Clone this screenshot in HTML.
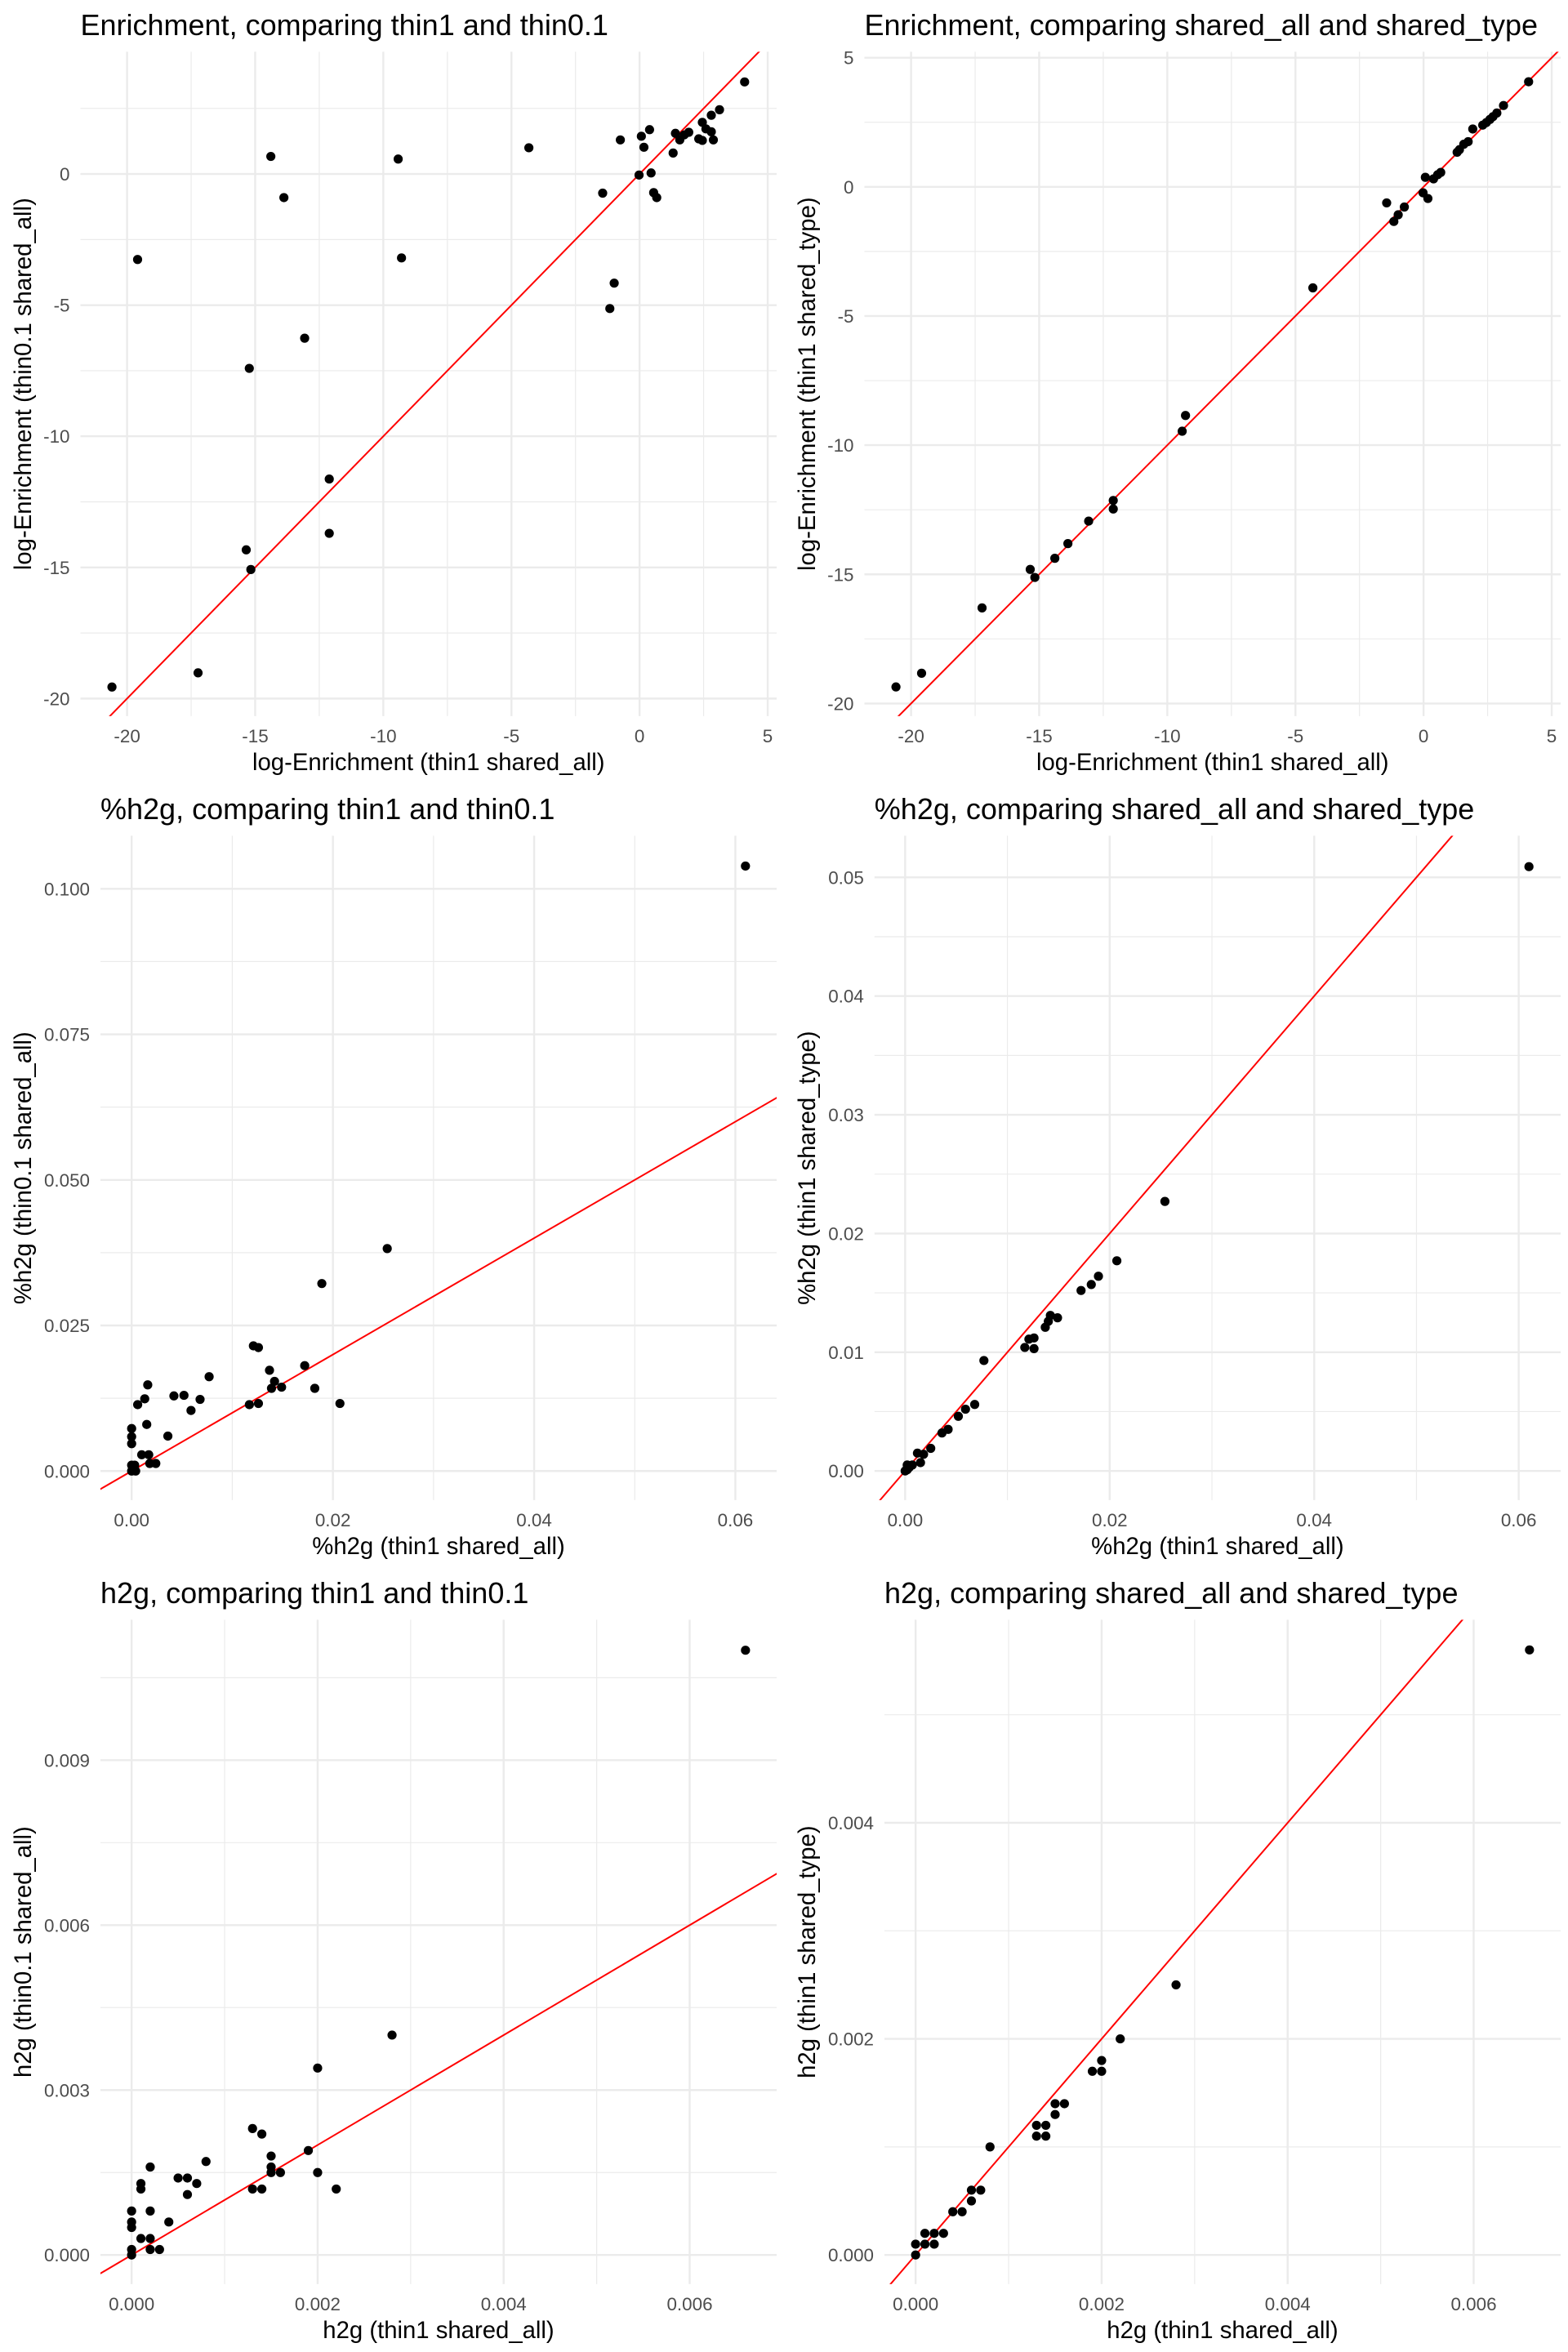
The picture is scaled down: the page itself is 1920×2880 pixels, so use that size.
<!DOCTYPE html>
<html><head><meta charset="utf-8"><style>
html,body{margin:0;padding:0;background:#fff;}
svg{display:block;}
text{font-family:"Liberation Sans",Arial,sans-serif;}
</style></head><body>
<svg id="fig" width="1920" height="2880" viewBox="0 0 1920 2880" xmlns="http://www.w3.org/2000/svg"></svg>
<script>
// ---- Panel 1: Enrichment thin1 vs thin0.1
const p1X = [4.10,3.12,2.80,2.45,2.59,2.80,2.31,2.45,2.88,1.92,1.74,1.57,1.40,1.31,0.39,0.07,0.17,-0.75,-0.02,0.45,0.55,0.67,-1.44,-0.99,-1.16,-4.32,-9.42,-9.29,-14.39,-13.88,-13.07,-15.23,-12.11,-12.11,-15.35,-15.17,-17.23,-20.59,-19.59];
const p1Y = [3.51,2.45,2.24,1.97,1.72,1.61,1.34,1.28,1.30,1.59,1.49,1.30,1.55,0.80,1.69,1.44,1.02,1.30,-0.04,0.04,-0.71,-0.90,-0.73,-4.16,-5.13,1.00,0.57,-3.20,0.67,-0.90,-6.26,-7.41,-11.63,-13.70,-14.33,-15.08,-19.02,-19.56,-3.26];
// ---- Panel 2: Enrichment shared_all vs shared_type
const p2X = [4.10,3.12,2.86,2.71,2.59,2.45,2.31,1.92,1.74,1.57,1.40,1.31,0.67,0.55,0.39,0.07,-0.02,0.17,-0.75,-0.99,-1.16,-1.44,-4.32,-9.29,-9.42,-12.11,-12.11,-13.07,-13.88,-14.39,-15.35,-15.17,-17.23,-19.59,-20.59];
const p2Y = [4.07,3.15,2.86,2.72,2.61,2.49,2.39,2.24,1.75,1.65,1.44,1.34,0.56,0.47,0.31,0.37,-0.23,-0.45,-0.78,-1.08,-1.34,-0.62,-3.91,-8.85,-9.46,-12.14,-12.47,-12.94,-13.81,-14.38,-14.81,-15.12,-16.30,-18.83,-19.36];
// ---- Panel 3: %h2g thin1 vs thin0.1
const p3X = [0.0610,0.0254,0.0189,0.0172,0.0182,0.0207,0.0137,0.0142,0.0139,0.0149,0.0121,0.0126,0.0117,0.0126,0.0077,0.0068,0.0052,0.0042,0.0059,0.0036,0.0016,0.0013,0.0006,0.0015,0,0,0,0.0010,0.0017,0.0018,0.0024,0,0.0003,0,0.0004];
const p3Y = [0.1039,0.0382,0.0322,0.0181,0.0142,0.0116,0.0173,0.0154,0.0142,0.0144,0.0215,0.0212,0.0114,0.0116,0.0162,0.0123,0.0130,0.0129,0.0104,0.0060,0.0148,0.0124,0.0114,0.0080,0.0073,0.0059,0.0047,0.0028,0.0028,0.0013,0.0013,0.0010,0.0010,0,0];
// ---- Panel 4: %h2g shared_all vs shared_type
const p4X = [0.0610,0.0254,0.0207,0.0189,0.0182,0.0172,0.0149,0.0142,0.0140,0.0137,0.0126,0.0121,0.0117,0.0126,0.0077,0.0068,0.0059,0.0052,0.0042,0.0036,0.0025,0.0018,0.0012,0.0015,0.0007,0.0002,0.0004,0,0.0002];
const p4Y = [0.0509,0.0227,0.0177,0.0164,0.0157,0.0152,0.0129,0.0131,0.0126,0.0121,0.0112,0.0111,0.0104,0.0103,0.0093,0.0056,0.0052,0.0046,0.0035,0.0032,0.0019,0.0014,0.0015,0.0007,0.0005,0.0005,0.0003,0,0.0001];
// ---- Panel 5: h2g thin1 vs thin0.1
const p5X = [0.0066,0.0028,0.0020,0.0013,0.0014,0.0019,0.0015,0.0015,0.0015,0.0016,0.0020,0.0022,0.0013,0.0014,0.0008,0.0002,0.0005,0.0006,0.0007,0.0006,0.0001,0.0001,0.0004,0,0.0002,0,0,0.0001,0.0002,0,0.0002,0.0003,0];
const p5Y = [0.0110,0.0040,0.0034,0.0023,0.0022,0.0019,0.0018,0.0016,0.0015,0.0015,0.0015,0.0012,0.0012,0.0012,0.0017,0.0016,0.0014,0.0014,0.0013,0.0011,0.0013,0.0012,0.0006,0.0008,0.0008,0.0006,0.0005,0.0003,0.0003,0.0001,0.0001,0.0001,0];
// ---- Panel 6: h2g shared_all vs shared_type
const p6X = [0.0066,0.0028,0.0022,0.0020,0.0019,0.0020,0.0015,0.0016,0.0015,0.0013,0.0014,0.0013,0.0014,0.0008,0.0006,0.0007,0.0006,0.0004,0.0005,0.0001,0.0002,0.0003,0,0.0001,0.0002,0];
const p6Y = [0.0056,0.0025,0.0020,0.0018,0.0017,0.0017,0.0014,0.0014,0.0013,0.0012,0.0012,0.0011,0.0011,0.0010,0.0006,0.0006,0.0005,0.0004,0.0004,0.0002,0.0002,0.0002,0.0001,0.0001,0.0001,0];
// ---- Tick labels
const enrXTicks = [-20,-15,-10,-5,0,5];
const enrXLabels = ["-20","-15","-10","-5","0","5"];
const p1YTicks = [-20,-15,-10,-5,0];
const p1YLabels = ["-20","-15","-10","-5","0"];
const p2YTicks = [-20,-15,-10,-5,0,5];
const p2YLabels = ["-20","-15","-10","-5","0","5"];
const pctXTicks = [0,0.02,0.04,0.06];
const pctXLabels = ["0.00","0.02","0.04","0.06"];
const p3YTicks = [0,0.025,0.05,0.075,0.1];
const p3YLabels = ["0.000","0.025","0.050","0.075","0.100"];
const p4YTicks = [0,0.01,0.02,0.03,0.04,0.05];
const p4YLabels = ["0.00","0.01","0.02","0.03","0.04","0.05"];
const h2gXTicks = [0,0.002,0.004,0.006];
const h2gXLabels = ["0.000","0.002","0.004","0.006"];
const p5YTicks = [0,0.003,0.006,0.009];
const p5YLabels = ["0.000","0.003","0.006","0.009"];
const p6YTicks = [0,0.002,0.004];
const p6YLabels = ["0.000","0.002","0.004"];

const NS="http://www.w3.org/2000/svg";
const svg=document.getElementById('fig');
function mk(tag,attrs,parent){const e=document.createElementNS(NS,tag);for(const k in attrs)e.setAttribute(k,attrs[k]);(parent||svg).appendChild(e);return e;}

const panels=[
 {id:'enrichment-thin',ox:0,oy:0,left:98.5,title:'Enrichment, comparing thin1 and thin0.1',xt:'log-Enrichment (thin1 shared_all)',yt:'log-Enrichment (thin0.1 shared_all)',xd:[-21.82,5.35],yd:[-20.67,4.66],X:p1X,Y:p1Y,xT:enrXTicks,xL:enrXLabels,yT:p1YTicks,yL:p1YLabels},
 {id:'enrichment-shared',ox:960,oy:0,left:98.5,title:'Enrichment, comparing shared_all and shared_type',xt:'log-Enrichment (thin1 shared_all)',yt:'log-Enrichment (thin1 shared_type)',xd:[-21.82,5.35],yd:[-20.49,5.23],X:p2X,Y:p2Y,xT:enrXTicks,xL:enrXLabels,yT:p2YTicks,yL:p2YLabels},
 {id:'pct-h2g-thin',ox:0,oy:960,left:123,title:'%h2g, comparing thin1 and thin0.1',xt:'%h2g (thin1 shared_all)',yt:'%h2g (thin0.1 shared_all)',xd:[-0.0031,0.0641],yd:[-0.0050,0.1091],X:p3X,Y:p3Y,xT:pctXTicks,xL:pctXLabels,yT:p3YTicks,yL:p3YLabels},
 {id:'pct-h2g-shared',ox:960,oy:960,left:110.8,title:'%h2g, comparing shared_all and shared_type',xt:'%h2g (thin1 shared_all)',yt:'%h2g (thin1 shared_type)',xd:[-0.0030,0.0641],yd:[-0.00246,0.0535],X:p4X,Y:p4Y,xT:pctXTicks,xL:pctXLabels,yT:p4YTicks,yL:p4YLabels},
 {id:'h2g-thin',ox:0,oy:1920,left:123,title:'h2g, comparing thin1 and thin0.1',xt:'h2g (thin1 shared_all)',yt:'h2g (thin0.1 shared_all)',xd:[-0.000335,0.006935],yd:[-0.00053,0.011554],X:p5X,Y:p5Y,xT:h2gXTicks,xL:h2gXLabels,yT:p5YTicks,yL:p5YLabels},
 {id:'h2g-shared',ox:960,oy:1920,left:123,title:'h2g, comparing shared_all and shared_type',xt:'h2g (thin1 shared_all)',yt:'h2g (thin1 shared_type)',xd:[-0.000335,0.006935],yd:[-0.00027,0.005879],X:p6X,Y:p6Y,xT:h2gXTicks,xL:h2gXLabels,yT:p6YTicks,yL:p6YLabels}
];

panels.forEach((p,i)=>{
 const g=mk('g',{transform:`translate(${p.ox},${p.oy})`});
 
 
 const L=p.left,R=951,T=63.4,B=876.9;
 const sx=v=>L+(v-p.xd[0])/(p.xd[1]-p.xd[0])*(R-L);
 const sy=v=>B-(v-p.yd[0])/(p.yd[1]-p.yd[0])*(B-T);
 const clip=mk('clipPath',{id:'clip'+i},g);
 mk('rect',{x:L,y:T,width:R-L,height:B-T},clip);
 const xs=p.xT[1]-p.xT[0], ys=p.yT[1]-p.yT[0];
 const minorX=[],minorY=[];
 for(let k=-1;k<p.xT.length;k++){minorX.push(p.xT[0]+xs*(k+0.5));}
 for(let k=-1;k<p.yT.length;k++){minorY.push(p.yT[0]+ys*(k+0.5));}
 minorX.forEach(v=>{const x=sx(v);if(x>L&&x<R){const l=mk('line',{x1:x,x2:x,y1:T,y2:B,stroke:'#ebebeb','stroke-width':1.2},g);}});
 minorY.forEach(v=>{const y=sy(v);if(y>T&&y<B){const l=mk('line',{x1:L,x2:R,y1:y,y2:y,stroke:'#ebebeb','stroke-width':1.2},g);}});
 p.xT.forEach((v,k)=>{const x=sx(v);
  const l=mk('line',{x1:x,x2:x,y1:T,y2:B,stroke:'#ebebeb','stroke-width':2.4},g);
  
  
  const t=mk('text',{x:x,y:909,'font-size':22.4,fill:'#4d4d4d','text-anchor':'middle'},g);t.textContent=p.xL[k];
  
  
 });
 p.yT.forEach((v,k)=>{const y=sy(v);
  const l=mk('line',{x1:L,x2:R,y1:y,y2:y,stroke:'#ebebeb','stroke-width':2.4},g);
  
  
  const t=mk('text',{x:L-13,y:y+8,'font-size':22.4,fill:'#4d4d4d','text-anchor':'end'},g);t.textContent=p.yL[k];
  
  
 });
 const lo=Math.min(p.xd[0],p.yd[0]),hi=Math.max(p.xd[1],p.yd[1]);
 const ln=mk('line',{x1:sx(lo),y1:sy(lo),x2:sx(hi),y2:sy(hi),stroke:'#ff0000','stroke-width':2,'clip-path':`url(#clip${i})`},g);
 
 
 p.X.forEach((v,k)=>{
  const c=mk('circle',{cx:sx(v),cy:sy(p.Y[k]),r:5.6,fill:'#000'},g);
  
  
 });
 const tt=mk('text',{x:L,y:43,'font-size':36,fill:'#000'},g);tt.textContent=p.title;
 
 
 const xt=mk('text',{x:(L+R)/2,y:943,'font-size':29.3,fill:'#000','text-anchor':'middle'},g);xt.textContent=p.xt;
 
 
 const cy=(T+B)/2;
 const yt=mk('text',{x:0,y:0,'font-size':29.3,fill:'#000','text-anchor':'middle',transform:`translate(38,${cy}) rotate(-90)`},g);yt.textContent=p.yt;
 
 
});
</script>
</body></html>
